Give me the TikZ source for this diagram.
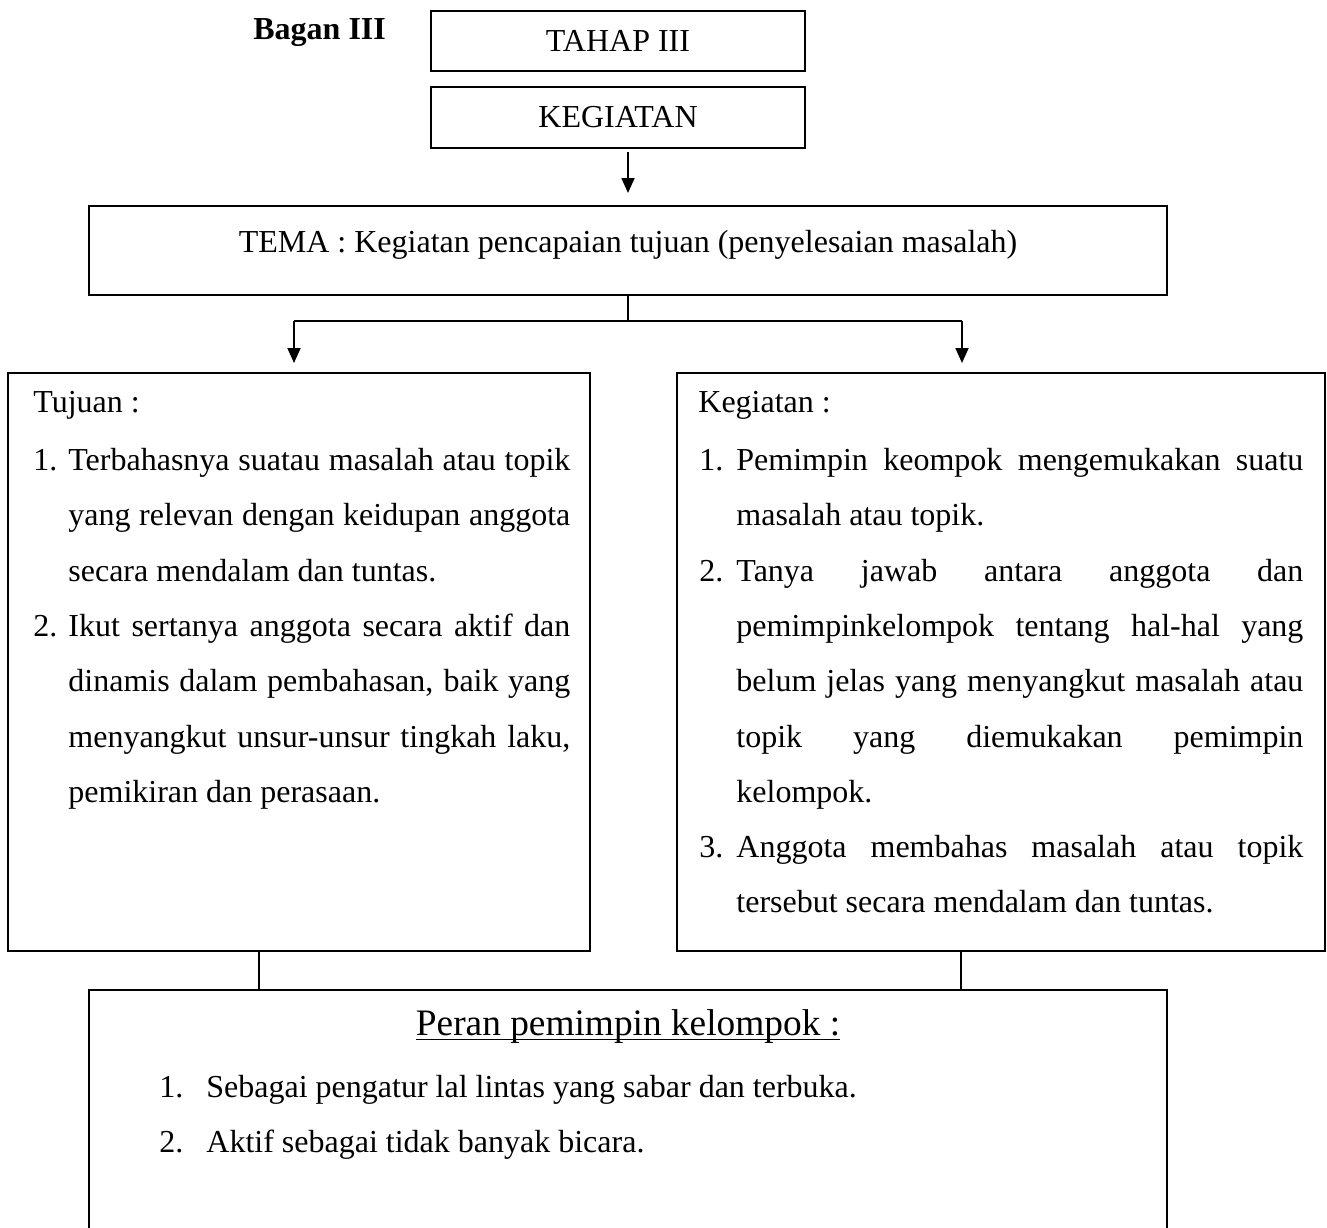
\documentclass[tikz,border=0pt]{standalone}
\usepackage{fontspec}
\setmainfont{Liberation Serif}
\usetikzlibrary{arrows.meta}
% one line of a justified paragraph, spread to the given width
\newcommand{\justline}[2]{\makebox[#1][s]{#2}}
\begin{document}
\begin{tikzpicture}[x=0.5pt,y=-0.5pt,
  body/.style={font=\fontsize{16}{19}\selectfont},
  box/.style={draw,line width=0.9pt,rectangle,inner sep=0pt,body},
  txt/.style={anchor=base west,inner sep=0pt,body},
  link/.style={line width=0.65pt},
  bar/.style={line width=0.9pt},
  arr/.style={line width=0.9pt,-{Triangle[length=7.5pt,width=6.5pt]}}]
\clip (0,0) rectangle (1327,1227);
\fill[white] (0,0) rectangle (1327,1227);

% header
\node[txt,font=\fontsize{16}{19}\selectfont\bfseries] (bagan) at (253,39) {Bagan III};
\node[box,minimum width=187pt,minimum height=30pt] (tahap) at (618,41) {TAHAP III};
\node[box,minimum width=187pt,minimum height=30.5pt] (keg) at (618,117.5) {KEGIATAN};

% theme box
\node[box,minimum width=539pt,minimum height=44.5pt] (tema) at (628,250.5) {};
\node[txt,anchor=base] (temat) at (628,252) {TEMA : Kegiatan pencapaian tujuan (penyelesaian masalah)};

% goal and activity boxes
\node[box,minimum width=291pt,minimum height=289pt] (tujuan) at (299,662) {};
\node[box,minimum width=324pt,minimum height=289pt] (kegbox) at (1001,662) {};

% leader's role box (runs past the lower edge)
\node[box,minimum width=539pt,minimum height=140pt,anchor=north] (peran) at (628,989) {};

% goals
\node[txt] (tj0) at (33,412) {Tujuan :};
\node[txt] (tj1n) at (33,470.5) {1.};
\node[txt] (tj1a) at (68,470.5) {\justline{251pt}{Terbahasnya suatau masalah atau topik}};
\node[txt] (tj1b) at (68,525.8) {\justline{251pt}{yang relevan dengan keidupan anggota}};
\node[txt] (tj1c) at (68,581.1) {secara mendalam dan tuntas.};
\node[txt] (tj2n) at (33,636.4) {2.};
\node[txt] (tj2a) at (68,636.4) {\justline{251pt}{Ikut sertanya anggota secara aktif dan}};
\node[txt] (tj2b) at (68,691.7) {\justline{251pt}{dinamis dalam pembahasan, baik yang}};
\node[txt] (tj2c) at (68,747) {\justline{251pt}{menyangkut unsur-unsur tingkah laku,}};
\node[txt] (tj2d) at (68,802.3) {pemikiran dan perasaan.};

% activities
\node[txt] (kg0) at (698,412) {Kegiatan :};
\node[txt] (kg1n) at (699,470.5) {1.};
\node[txt] (kg1a) at (736,470.5) {\justline{283.5pt}{Pemimpin keompok mengemukakan suatu}};
\node[txt] (kg1b) at (736,525.8) {masalah atau topik.};
\node[txt] (kg2n) at (699,581.1) {2.};
\node[txt] (kg2a) at (736,581.1) {\justline{283.5pt}{Tanya jawab antara anggota dan}};
\node[txt] (kg2b) at (736,636.4) {\justline{283.5pt}{pemimpinkelompok tentang hal-hal yang}};
\node[txt] (kg2c) at (736,691.7) {\justline{283.5pt}{belum jelas yang menyangkut masalah atau}};
\node[txt] (kg2d) at (736,747) {\justline{283.5pt}{topik yang diemukakan pemimpin}};
\node[txt] (kg2e) at (736,802.3) {kelompok.};
\node[txt] (kg3n) at (699,857.6) {3.};
\node[txt] (kg3a) at (736,857.6) {\justline{283.5pt}{Anggota membahas masalah atau topik}};
\node[txt] (kg3b) at (736,912.9) {tersebut secara mendalam dan tuntas.};

% leader's role
\node[txt,anchor=base,font=\fontsize{18.67}{22}\selectfont] (ttl) at (628,1035) {Peran pemimpin kelompok :};
\draw[line width=0.8pt] ([yshift=-2.3pt]ttl.base west) -- ([yshift=-2.3pt]ttl.base east);
\node[txt] (pr1n) at (159,1097) {1.};
\node[txt] (pr1) at (206,1097) {Sebagai pengatur lal lintas yang sabar dan terbuka.};
\node[txt] (pr2n) at (159,1152) {2.};
\node[txt] (pr2) at (206,1152) {Aktif sebagai tidak banyak bicara.};

% connectors
\coordinate (a0) at (628,152);
\coordinate (a0t) at (628,193);
\coordinate (split) at (628,321);
\coordinate (jl) at (294,321);
\coordinate (jr) at (962,321);
\coordinate (jlt) at (294,363);
\coordinate (jrt) at (962,363);
\coordinate (cl) at (259,0);
\coordinate (cr) at (961,0);
\draw[arr] (a0) -- (a0t);
\draw[link] (tema.south) -- (split);
\draw[bar] (jl) -- (jr);
\draw[arr] (jl) -- (jlt);
\draw[arr] (jr) -- (jrt);
\draw[link] (tujuan.south -| cl) -- (peran.north -| cl);
\draw[link] (kegbox.south -| cr) -- (peran.north -| cr);
\end{tikzpicture}
\end{document}
